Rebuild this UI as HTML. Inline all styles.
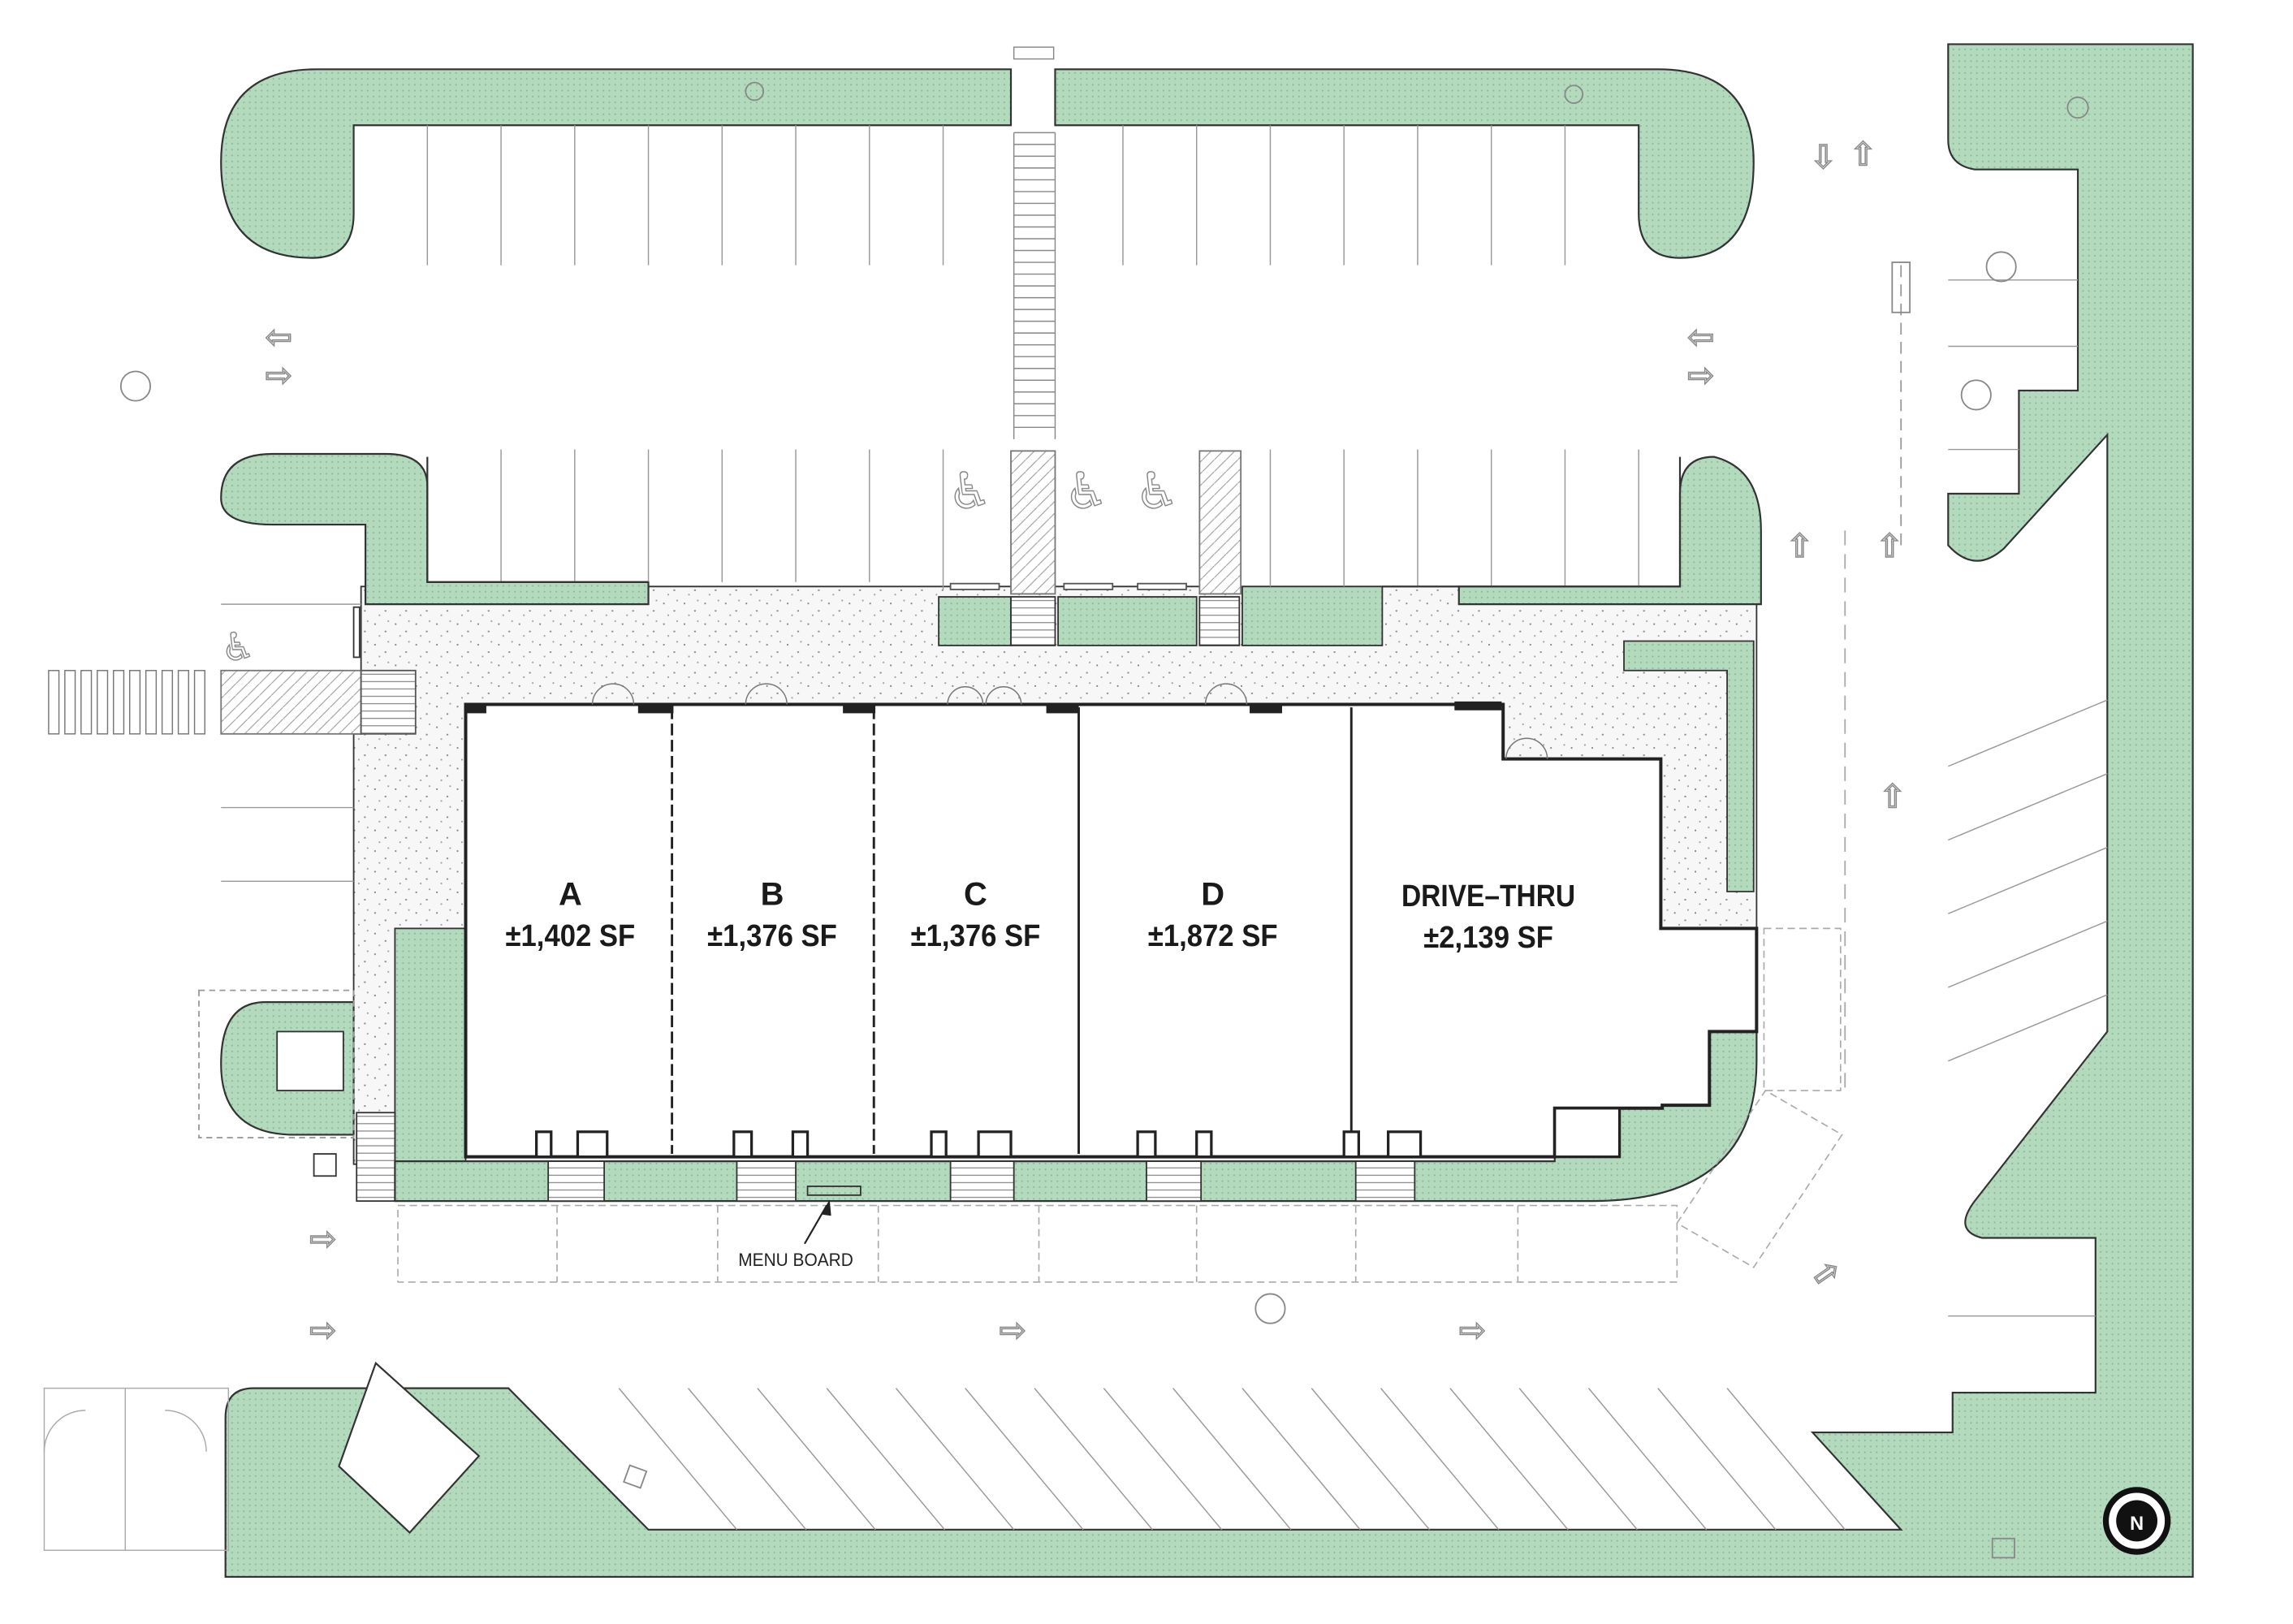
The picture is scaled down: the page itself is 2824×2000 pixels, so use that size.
<!DOCTYPE html>
<html><head><meta charset="utf-8"><style>
html,body{margin:0;padding:0;background:#fff;}
svg{display:block;}
.lb{font-family:"Liberation Sans",sans-serif;font-weight:bold;fill:#1a1a1a;text-anchor:middle;}
</style></head><body>
<svg width="2824" height="2000" viewBox="0 0 1556 1102" preserveAspectRatio="none" xmlns="http://www.w3.org/2000/svg">
<defs>
<pattern id="g" width="4" height="4" patternUnits="userSpaceOnUse"><rect width="4" height="4" fill="#b3dabd"/><rect x="1" y="1" width="1" height="1" fill="#86b894"/></pattern>
<pattern id="c" width="14" height="14" patternUnits="userSpaceOnUse"><rect width="14" height="14" fill="#f7f7f7"/><rect x="2" y="3" width="1" height="1" fill="#777"/><rect x="9" y="8" width="1.2" height="1" fill="#888"/><rect x="5" y="11" width="1" height="1" fill="#999"/><rect x="11" y="1" width="1" height="1" fill="#999"/></pattern>
<pattern id="h" width="8" height="8" patternUnits="userSpaceOnUse"><rect width="8" height="8" fill="#fff"/><path d="M-2,10 L10,-2" stroke="#999" stroke-width="0.6"/></pattern>
<pattern id="s" width="6" height="5" patternUnits="userSpaceOnUse"><rect width="6" height="5" fill="#fff"/><path d="M0,2.5 H6" stroke="#777" stroke-width="0.6"/></pattern>
</defs>
<rect width="1556" height="1102" fill="#fff"/>

<path d="M1322,30 L1488,30 L1488,1070 L153,1070 L153,962 Q153,942 172,942 L345,942 L440,1038 L1290,1038 L1230,972 L1325,972 L1325,945 L1422,945 L1422,840 L1345,840 Q1325,835 1340,815 L1430,700 L1430,295 L1360,372 Q1340,390 1322,370 L1322,335 L1370,335 L1370,265 L1410,265 L1410,115 L1340,115 Q1322,112 1322,95 Z" fill="url(#g)" stroke="#333" stroke-width="1.2"/>

<path d="M686,47 L215,47 Q150,47 150,110 Q150,175 212,175 Q240,175 240,145 L240,85 L686,85 Z" fill="url(#g)" stroke="#333" stroke-width="1.2"/>
<path d="M716,47 L1125,47 Q1190,47 1190,110 Q1190,175 1140,175 Q1112,175 1112,145 L1112,85 L716,85 Z" fill="url(#g)" stroke="#333" stroke-width="1.2"/>

<path d="M245,398 L1192,398 L1192,630 L1125,630 L1125,515 L1020,515 L1020,478 L316,478 L316,630 L268,630 L268,790 L240,790 L240,498 L245,498 Z" fill="url(#c)" stroke="#333" stroke-width="1"/>

<path d="M150,338 Q150,308 185,308 L262,308 Q290,308 290,330 L290,395 L440,395 L440,410 L248,410 L248,356 L185,356 Q150,356 150,338 Z" fill="url(#g)" stroke="#333" stroke-width="1.2"/>
<path d="M1140,335 Q1140,310 1163,310 Q1195,318 1195,360 L1195,410 L990,410 L990,398 L1140,398 Z" fill="url(#g)" stroke="#333" stroke-width="1.2"/>
<rect x="637" y="405" width="49" height="33" fill="url(#g)" stroke="#333"/>
<rect x="718" y="405" width="94" height="33" fill="url(#g)" stroke="#333"/>
<rect x="843" y="398" width="95" height="40" fill="url(#g)" stroke="#333"/>
<rect x="686" y="405" width="30" height="33" fill="url(#s)" stroke="#333"/>
<rect x="814" y="405" width="27" height="33" fill="url(#s)" stroke="#333"/>
<path d="M1102,435 L1190,435 L1190,605 L1172,605 L1172,455 L1102,455 Z" fill="url(#g)" stroke="#333"/>

<rect x="268" y="630" width="48" height="160" fill="url(#g)" stroke="#333"/>
<path d="M240,680 L180,680 Q150,680 150,722 Q150,770 200,770 L240,770 Z" fill="url(#g)" stroke="#333" stroke-width="1.2"/>
<rect x="188" y="700" width="45" height="40" fill="#fff" stroke="#333"/>
<rect x="213" y="783" width="15" height="15" fill="#fff" stroke="#333"/>
<rect x="135" y="672" width="105" height="100" fill="none" stroke="#999" stroke-dasharray="4,3"/>
<rect x="242" y="755" width="26" height="60" fill="url(#s)" stroke="#333"/>

<path d="M268,788 L1055,788 L1055,750 L1128,750 L1128,700 L1192,700 L1192,720 Q1192,815 1080,815 L268,815 Z" fill="url(#g)" stroke="#333" stroke-width="1.2"/>
<g fill="url(#s)" stroke="#333">
<rect x="372" y="788" width="38" height="27"/><rect x="500" y="788" width="40" height="27"/><rect x="645" y="788" width="43" height="27"/><rect x="778" y="788" width="37" height="27"/><rect x="920" y="788" width="40" height="27"/>
</g>
<rect x="548" y="805" width="36" height="6" fill="none" stroke="#333"/>

<path d="M316,478 L1020,478 L1020,515 L1127,515 L1127,630 L1192,630 L1192,700 L1160,700 L1160,750 L1128,750 L1128,752 L1055,752 L1055,785 L316,785 Z" fill="#fff" stroke="#222" stroke-width="2.2"/>
<g stroke="#222" stroke-width="1.6">
<line x1="456" y1="480" x2="456" y2="783" stroke-dasharray="8,3"/>
<line x1="593" y1="480" x2="593" y2="783" stroke-dasharray="8,3"/>
<line x1="732" y1="480" x2="732" y2="783"/>
<line x1="917" y1="480" x2="917" y2="783"/>
</g>
<g fill="#fff" stroke="#222" stroke-width="1.8">
<rect x="364" y="768" width="10" height="17"/><rect x="392" y="768" width="20" height="17"/>
<rect x="498" y="768" width="12" height="17"/><rect x="538" y="768" width="10" height="17"/>
<rect x="632" y="768" width="10" height="17"/><rect x="664" y="768" width="22" height="17"/>
<rect x="772" y="768" width="12" height="17"/><rect x="812" y="768" width="10" height="17"/>
<rect x="912" y="768" width="10" height="17"/><rect x="942" y="768" width="22" height="17"/>
<rect x="1055" y="752" width="44" height="33"/>
</g>
<g fill="#222"><rect x="316" y="478" width="14" height="6"/><rect x="433" y="478" width="24" height="6"/><rect x="572" y="478" width="22" height="6"/><rect x="710" y="478" width="22" height="6"/><rect x="848" y="478" width="22" height="6"/><rect x="987" y="476" width="32" height="6"/></g>
<g fill="none" stroke="#777" stroke-width="0.8">
<path d="M402,478 A14,14 0 0 1 416,464 M430,478 A14,14 0 0 0 416,464"/>
<path d="M506,478 A14,14 0 0 1 520,464 M534,478 A14,14 0 0 0 520,464"/>
<path d="M643,478 A12,12 0 0 1 655,466 M667,478 A12,12 0 0 0 655,466 M669,478 A12,12 0 0 1 681,466 M693,478 A12,12 0 0 0 681,466"/>
<path d="M818,478 A14,14 0 0 1 832,464 M846,478 A14,14 0 0 0 832,464"/>
<path d="M1022,515 A14,14 0 0 1 1036,501 M1050,515 A14,14 0 0 0 1036,501"/>
</g>

<g fill="none" stroke="#aaa" stroke-dasharray="5,3" stroke-width="0.9">
<rect x="270" y="818" width="868" height="52"/>
<path d="M378,818 V870 M487,818 V870 M596,818 V870 M705,818 V870 M812,818 V870 M920,818 V870 M1030,818 V870"/>
<rect x="1197" y="630" width="52" height="110"/>
<path d="M1138,830 L1198,740 L1250,770 L1190,860 Z"/>
</g>

<g stroke="#999" stroke-width="0.8">
<path d="M290,85 V180 M340,85 V180 M390,85 V180 M440,85 V180 M490,85 V180 M540,85 V180 M590,85 V180 M640,85 V180 M762,85 V180 M812,85 V180 M862,85 V180 M912,85 V180 M962,85 V180 M1012,85 V180 M1062,85 V180"/>
<path d="M340,305 V395 M390,305 V395 M440,305 V395 M490,305 V395 M540,305 V395 M590,305 V395 M640,305 V400 M862,305 V398 M912,305 V398 M962,305 V398 M1012,305 V398 M1062,305 V398 M1112,305 V398"/>
<path d="M150,548 H240 M150,598 H240 M150,498 H240 M150,410 H245"/>
</g>
<path d="M290,310 V395 H440" fill="none" stroke="#333" stroke-width="1.2"/>
<path d="M938,398 H1140 V310" fill="none" stroke="#333" stroke-width="1.2"/>
<g fill="#fff" stroke="#888" stroke-width="0.8">
<rect x="688" y="32" width="27" height="8"/>
<path d="M688,90 H716 M688,98 H716 M688,106 H716 M688,114 H716 M688,122 H716 M688,130 H716 M688,138 H716 M688,146 H716 M688,154 H716 M688,162 H716 M688,170 H716 M688,178 H716 M688,186 H716 M688,194 H716 M688,202 H716 M688,210 H716 M688,218 H716 M688,226 H716 M688,234 H716 M688,242 H716 M688,250 H716 M688,258 H716 M688,266 H716 M688,274 H716 M688,282 H716 M688,290 H716"/>
<path d="M688,90 V298 M716,90 V298"/>
</g>
<rect x="686" y="306" width="30" height="97" fill="url(#h)" stroke="#777"/>
<rect x="814" y="306" width="28" height="97" fill="url(#h)" stroke="#777"/>
<g fill="#fff" stroke="#555"><rect x="645" y="396" width="33" height="4"/><rect x="722" y="396" width="33" height="4"/><rect x="772" y="396" width="33" height="4"/></g>
<g font-family="DejaVu Sans,sans-serif" font-size="34" fill="none" stroke="#888" stroke-width="0.8"><text x="643" y="345">&#9855;</text><text x="722" y="345">&#9855;</text><text x="770" y="345">&#9855;</text><text x="150" y="448" font-size="26">&#9855;</text></g>

<g fill="#fff" stroke="#777" stroke-width="0.8">
<rect x="33" y="455" width="7" height="43"/><rect x="44" y="455" width="7" height="43"/><rect x="55" y="455" width="7" height="43"/><rect x="66" y="455" width="7" height="43"/><rect x="77" y="455" width="7" height="43"/><rect x="88" y="455" width="7" height="43"/><rect x="99" y="455" width="7" height="43"/><rect x="110" y="455" width="7" height="43"/><rect x="121" y="455" width="7" height="43"/><rect x="132" y="455" width="7" height="43"/>
</g>
<rect x="150" y="455" width="95" height="43" fill="url(#h)" stroke="#777"/>
<rect x="245" y="455" width="37" height="43" fill="url(#s)" stroke="#555"/>
<rect x="240" y="412" width="4" height="34" fill="#fff" stroke="#333"/>

<g stroke="#999" stroke-width="0.8">
<path d="M420,942 L500,1038 M467,942 L547,1038 M514,942 L594,1038 M561,942 L641,1038 M608,942 L688,1038 M655,942 L735,1038 M702,942 L782,1038 M749,942 L829,1038 M796,942 L876,1038 M843,942 L923,1038 M890,942 L970,1038 M937,942 L1017,1038 M984,942 L1064,1038 M1031,942 L1111,1038 M1078,942 L1158,1038 M1125,942 L1205,1038 M1172,942 L1252,1038"/>
<path d="M1322,520 L1430,475 M1322,570 L1430,525 M1322,620 L1430,575 M1322,670 L1430,625 M1322,720 L1430,675 M1322,190 H1410 M1322,235 H1410 M1322,305 H1370 M1322,893 H1422"/>
</g>
<path d="M1290,370 V180" stroke="#999" stroke-dasharray="8,5" fill="none"/>
<path d="M1252,360 V740" stroke="#aaa" stroke-dasharray="10,6" fill="none"/>

<path d="M230,995 L255,925 L325,988 L278,1040 Z" fill="#fff" stroke="#333" stroke-width="1.2"/>
<g fill="none" stroke="#aaa" stroke-width="0.8"><rect x="30" y="942" width="125" height="110"/><path d="M85,942 V1052 M30,985 A28,28 0 0 1 58,957 M140,985 A28,28 0 0 0 112,957"/></g>

<g fill="none" stroke="#888" stroke-width="1">
<circle cx="92" cy="262" r="10"/><circle cx="862" cy="888" r="10"/><circle cx="1358" cy="181" r="10"/><circle cx="1341" cy="268" r="10"/>
<circle cx="512" cy="62" r="6"/><circle cx="1068" cy="64" r="6"/><circle cx="1410" cy="73" r="7"/>
<rect x="1284" y="178" width="12" height="34"/><rect x="1352" y="1044" width="15" height="13"/><rect x="425" y="996" width="12" height="12" transform="rotate(20 431 1002)"/>
</g>
<g font-family="DejaVu Sans,sans-serif" font-size="22" fill="#fff" stroke="#888" stroke-width="0.8">
<text x="180" y="236">&#8678;</text><text x="180" y="262">&#8680;</text>
<text x="1145" y="236">&#8678;</text><text x="1145" y="262">&#8680;</text>
<text x="1228" y="114">&#8681;</text><text x="1255" y="112">&#8679;</text>
<text x="1212" y="378">&#8679;</text><text x="1273" y="378">&#8679;</text><text x="1275" y="548">&#8679;</text>
<text x="210" y="848">&#8680;</text><text x="210" y="910">&#8680;</text><text x="678" y="910">&#8680;</text><text x="990" y="910">&#8680;</text>
<text x="1228" y="870" transform="rotate(-35 1240 860)">&#8680;</text>
</g>

<circle cx="1450" cy="1032" r="21" fill="#fff" stroke="#111" stroke-width="4"/>
<circle cx="1450" cy="1032" r="14" fill="#111"/>
<text x="1450" y="1038" font-family="Liberation Sans,sans-serif" font-weight="bold" font-size="13" fill="#fff" text-anchor="middle">N</text>

<text class="lb" x="387" y="614" font-size="22">A</text>
<text class="lb" x="387" y="642" font-size="21" textLength="88" lengthAdjust="spacingAndGlyphs">±1,402 SF</text>
<text class="lb" x="524" y="614" font-size="22">B</text>
<text class="lb" x="524" y="642" font-size="21" textLength="88" lengthAdjust="spacingAndGlyphs">±1,376 SF</text>
<text class="lb" x="662" y="614" font-size="22">C</text>
<text class="lb" x="662" y="642" font-size="21" textLength="88" lengthAdjust="spacingAndGlyphs">±1,376 SF</text>
<text class="lb" x="823" y="614" font-size="22">D</text>
<text class="lb" x="823" y="642" font-size="21" textLength="88" lengthAdjust="spacingAndGlyphs">±1,872 SF</text>
<text class="lb" x="1010" y="615" font-size="21" textLength="118" lengthAdjust="spacingAndGlyphs">DRIVE–THRU</text>
<text class="lb" x="1010" y="643" font-size="21" textLength="88" lengthAdjust="spacingAndGlyphs">±2,139 SF</text>
<text x="540" y="859" font-family="Liberation Sans,sans-serif" font-size="12" fill="#222" text-anchor="middle" textLength="78" lengthAdjust="spacingAndGlyphs">MENU BOARD</text>
<path d="M546,844 L561,818" stroke="#222" stroke-width="1.2"/>
<path d="M563,814 L557,824 L564,825 Z" fill="#222"/>
</svg>
</body></html>
